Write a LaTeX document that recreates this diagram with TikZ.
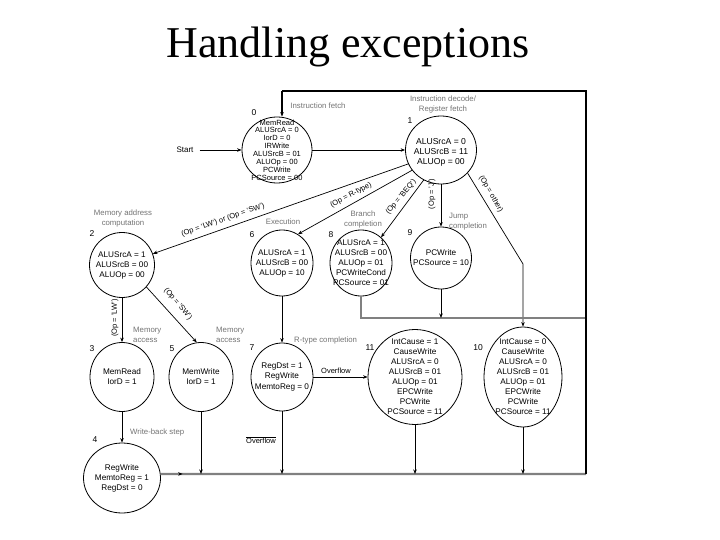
\documentclass[tikz,border=0pt]{standalone}
\usepackage{fontspec}
\setmainfont{Liberation Sans}
\newfontfamily\titlefont{Liberation Serif}
\usetikzlibrary{shapes.geometric,arrows.meta,decorations.markings}
\begin{document}
\begin{tikzpicture}[x=1pt,y=-1pt,
  state/.style={ellipse,draw,line width=0.8pt,inner sep=0pt},
  stxt/.style={align=center,inner sep=0pt,font=\fontsize{8.2}{10}\selectfont},
  gl/.style={text=black!55,font=\fontsize{7.8}{10}\selectfont,align=center,inner sep=0pt},
  gll/.style={gl,align=left,anchor=west},
  num/.style={font=\fontsize{8.5}{10}\selectfont,inner sep=0pt},
  cond/.style={font=\fontsize{7.5}{9}\selectfont,inner sep=0pt},
  edge/.style={line width=0.7pt,-{Stealth[length=4.5pt,width=3.5pt]}},
  frame/.style={line width=1.4pt},
  bus/.style={line width=2.2pt,draw=black!50},
  midarrow/.style={postaction={decorate,decoration={markings,
      mark=at position 22pt with {\arrow[black]{Stealth[length=4.5pt,width=3.5pt]}}}}},
]
\useasboundingbox (0,0) rectangle (720,540);

% title
\node[font=\titlefont\fontsize{44}{50}\selectfont,anchor=base,inner sep=0pt] (title) at (348,58) {Handling exceptions};

% states
\node[state,minimum width=70pt,minimum height=66pt] (n0) at (277,150) {};
\node[state,minimum width=71pt,minimum height=68pt] (n1) at (441,150) {};
\node[state,minimum width=65pt,minimum height=65pt] (n2) at (122,265) {};
\node[state,minimum width=62pt,minimum height=66pt] (n6) at (282,263) {};
\node[state,minimum width=62pt,minimum height=66pt] (n8) at (361,263) {};
\node[state,minimum width=61pt,minimum height=62pt] (n9) at (441,258) {};
\node[state,minimum width=64pt,minimum height=69pt] (n3) at (122,377) {};
\node[state,minimum width=64pt,minimum height=69pt] (n5) at (201,377) {};
\node[state,minimum width=62pt,minimum height=68pt] (n7) at (282,377) {};
\node[state,minimum width=94pt,minimum height=95pt] (n11) at (415,377) {};
\node[state,minimum width=78pt,minimum height=100pt] (n10) at (523,377) {};
\node[state,minimum width=77pt,minimum height=70pt] (n4) at (122,478) {};

% state texts
\node[stxt,font=\fontsize{7.5}{7.9}\selectfont] (t0) at (n0) {MemRead\\ALUSrcA = 0\\IorD = 0\\IRWrite\\ALUSrcB = 01\\ALUOp = 00\\PCWrite\\PCSource = 00};
\node[stxt,font=\fontsize{8.6}{10}\selectfont] (t1) at ([yshift=-2pt]n1) {ALUSrcA = 0\\ALUSrcB = 11\\ALUOp = 00};
\node[stxt] (t2) at (n2) {ALUSrcA = 1\\ALUSrcB = 00\\ALUOp = 00};
\node[stxt] (t6) at (n6) {ALUSrcA = 1\\ALUSrcB = 00\\ALUOp = 10};
\node[stxt] (t8) at (n8) {ALUSrcA = 1\\ALUSrcB = 00\\ALUOp = 01\\PCWriteCond\\PCSource = 01};
\node[stxt] (t9) at (n9) {PCWrite\\PCSource = 10};
\node[stxt] (t3) at (n3) {MemRead\\IorD = 1};
\node[stxt] (t5) at (n5) {MemWrite\\IorD = 1};
\node[stxt,font=\fontsize{8.2}{10.5}\selectfont] (t7) at (n7) {RegDst = 1\\RegWrite\\MemtoReg = 0};
\node[stxt] (t11) at (n11) {IntCause = 1\\CauseWrite\\ALUSrcA = 0\\ALUSrcB = 01\\ALUOp = 01\\EPCWrite\\PCWrite\\PCSource = 11};
\node[stxt] (t10) at (n10) {IntCause = 0\\CauseWrite\\ALUSrcA = 0\\ALUSrcB = 01\\ALUOp = 01\\EPCWrite\\PCWrite\\PCSource = 11};
\node[stxt] (t4) at (n4) {RegWrite\\MemtoReg = 1\\RegDst = 0};

% state numbers
\node[num] (k0) at (254,113) {0};
\node[num] (k1) at (410,121) {1};
\node[num] (k2) at (92,234) {2};
\node[num] (k6) at (252,235) {6};
\node[num] (k8) at (331,235) {8};
\node[num] (k9) at (410,233) {9};
\node[num] (k3) at (92,349) {3};
\node[num] (k5) at (172,349) {5};
\node[num] (k7) at (252,348) {7};
\node[num] (k11) at (370,348) {11};
\node[num] (k10) at (478,348) {10};
\node[num] (k4) at (95,440) {4};

% grey step labels
\node[gl] (g0) at (318,106) {Instruction fetch};
\node[gl] (g1) at (443,104) {Instruction decode/\\Register fetch};
\node[gl] (g2) at (123,218) {Memory address\\computation};
\node[gl] (g6) at (283,222) {Execution};
\node[gl] (g8) at (363,219) {Branch\\completion};
\node[gll] (g9) at (449,222) {Jump\\completion};
\node[gll] (g3) at (133,335) {Memory\\access};
\node[gll] (g5) at (216,335) {Memory\\access};
\node[gll] (g7) at (294,340) {R-type completion};
\node[gll] (g4) at (130,432) {Write-back step};

% start
\node[font=\fontsize{8}{10}\selectfont,inner sep=0pt] (start) at (185,150) {Start};

% connector points
\coordinate (br) at (586,474);
\coordinate (tr) at (586,91);
\coordinate (tl) at (282,91);
\coordinate (mr) at (586,318);
\coordinate (ob) at (523,264);

% connectors
\draw[edge] (start.east) ++(6pt,0) coordinate (s0) -- (n0.west);
\draw[edge] (n0.east) -- (n1.west);
\draw[edge] (n1.203) -- (n2.20);
\draw[edge] (n1.215) -- (n6.61);
\draw[edge] (n1.240) -- (n8.52);
\draw[edge] (n1.south) -- (n9.north);
\draw[edge] (n1.319) -- (ob) -- (n10.north);
\draw[edge] (n2.south) -- (n3.north);
\draw[edge] (n2.318) -- (n5.97);
\draw[edge] (n3.south) -- (n4.north);
\draw[edge] (n6.south) -- (n7.north);
\draw[edge] (n7.east) -- (n11.west);

% return paths
\draw[bus] (n8.south) -- (n8.south |- mr) -- (mr);
\draw[bus,midarrow] (n4.6) -- (br);
\draw[edge] (n9.south) -- (n9.south |- mr);
\draw[edge] (n5.south) -- (n5.south |- br);
\draw[edge] (n7.south) -- (n7.south |- br);
\draw[edge] (n11.south) -- (n11.south |- br);
\draw[edge] (n10.south) -- (n10.south |- br);
\draw[frame] (br) -- (tr) -- (tl);
\draw[edge,frame] (tl) -- (tl |- n0.north);

% conditions
\node[cond,rotate=19] (c1) at (223,220) {(Op = 'LW') or (Op = 'SW')};
\node[cond,rotate=28] (c2) at (351,195) {(Op = R-type)};
\node[cond,rotate=50] (c3) at (401,197) {(Op = 'BEQ')};
\node[cond,rotate=90] (c4) at (432,194) {(Op = 'J')};
\node[cond,rotate=-60] (c5) at (491,194) {(Op = other)};
\node[cond,rotate=-50] (c6) at (178,304) {(Op = 'SW')};
\node[cond,rotate=90] (c7) at (115,318) {(Op = 'LW')};
\node[cond] (c8) at (336,371) {Overflow};
\node[cond] (c9) at (261,440) {$\overline{\mbox{Overflow}}$};
\end{tikzpicture}
\end{document}
